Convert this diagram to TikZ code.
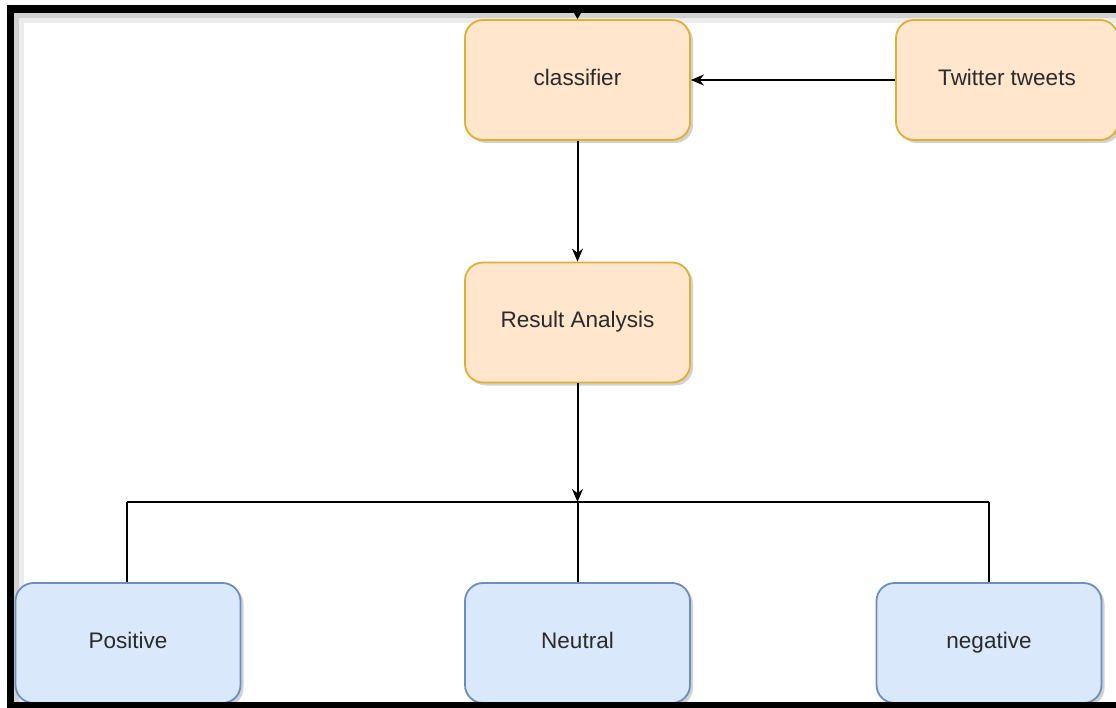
\documentclass[tikz,border=0pt]{standalone}
\usepackage{fontspec}
\setmainfont{Liberation Sans}
\usetikzlibrary{arrows.meta,shadows}
\definecolor{orfill}{HTML}{FFE6CC}
\definecolor{ordraw}{HTML}{D79B00}
\definecolor{blfill}{HTML}{DAE8FC}
\definecolor{bldraw}{HTML}{6C8EBF}
\definecolor{txt}{HTML}{2A2A2A}
\tikzset{
  box/.style={draw, line width=1.8pt, rounded corners=18pt, minimum width=225pt, minimum height=120pt,
    inner sep=0pt, text=txt, font=\fontsize{22.5}{26}\selectfont, text height=16pt, text depth=5pt,
    drop shadow={shadow xshift=3pt, shadow yshift=-3pt, opacity=0.35, fill=gray}},
  orbox/.style={box, fill=orfill, draw=ordraw!80},
  blbox/.style={box, fill=blfill, draw=bldraw},
  conn/.style={line width=2pt, black},
  arr/.style={conn, -{Stealth[length=13pt,width=11pt]}},
}
\begin{document}
\begin{tikzpicture}[x=1pt,y=-1pt]
\useasboundingbox (0,0) rectangle (1116,708);
\fill[white] (0,0) rectangle (1116,708);
% inner shadow of the frame
\draw[gray!35, line width=5pt] (1116,15.5) -- (16.5,15.5) -- (16.5,708);
\draw[gray!15, line width=5pt] (1116,20.5) -- (21.5,20.5) -- (21.5,708);
% nodes
\node[orbox] (cls) at (577.5,80) {classifier};
\node[orbox, minimum width=222pt] (tw) at (1007,80) {Twitter tweets};
\node[orbox] (res) at (577.5,322.5) {Result Analysis};
\node[blbox] (pos) at (128,643) {Positive};
\node[blbox] (neu) at (577.5,643) {Neutral};
\node[blbox] (neg) at (989,643) {negative};
% connectors
\coordinate (topin) at (577.5,8);
\coordinate (jn) at (577.5,502);
\coordinate (jl) at (127,502);
\coordinate (jr) at (989,502);
\draw[conn, -{Stealth[length=8pt,width=9pt]}] (topin) -- (cls.north);
\draw[arr] (tw.west) -- (cls.east);
\draw[arr] (cls.south) -- (res.north);
\draw[arr] (res.south) -- (jn);
\draw[conn] (jl) -- (jr);
\draw[conn] (jl) -- (jl |- pos.north);
\draw[conn] (jn) -- (neu.north);
\draw[conn] (jr) -- (jr |- neg.north);
% frame
\draw[black, line width=7.5pt] (1116,9) -- (10.5,9) -- (10.5,705.5) -- (1116,705.5);
\end{tikzpicture}
\end{document}
